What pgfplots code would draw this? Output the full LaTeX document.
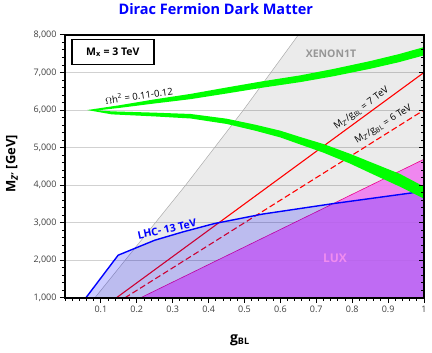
\documentclass[border=0pt]{standalone}
\usepackage{fontspec}
\setmainfont{Open Sans}
\usepackage{pgfplots}
\pgfplotsset{compat=1.18}

\definecolor{relic}{RGB}{0,255,0}
\definecolor{luxpink}{RGB}{240,140,240}
\definecolor{xegray}{RGB}{150,150,150}
\definecolor{luxfill}{RGB}{241,118,241}

\begin{document}
\begin{tikzpicture}
\begin{axis}[
	name=main,
	scale only axis,
	width=359pt, height=263pt,
	xmin=0, xmax=1, ymin=1000, ymax=8000,
	clip=false,
	xtick={0.1,0.2,0.3,0.4,0.5,0.6,0.7,0.8,0.9,1},
	xticklabels={0.1,0.2,0.3,0.4,0.5,0.6,0.7,0.8,0.9,1},
	minor xtick={0,0.02,...,1},
	ytick={1000,2000,3000,4000,5000,6000,7000,8000},
	minor y tick num=4,
	xtick pos=bottom, ytick pos=left,
	tick align=outside,
	major tick length=5pt, minor tick length=3pt,
	tick style={black, line width=0.9pt},
	ymajorgrids=true,
	grid style={black!18, line width=0.5pt},
	ticklabel style={font=\fontsize{9}{10}\selectfont, text=black!75},
	/pgf/number format/assume math mode=true,
	/pgf/number format/1000 sep={,},
	title={Dirac Fermion Dark Matter},
	title style={at={(0.42,1.076)}, anchor=center, font=\bfseries\fontsize{14.5}{16}\selectfont, text=blue},
	xlabel={g\textsubscript{\fontsize{9}{10}\selectfont BL}},
	xlabel style={at={(0.487,-0.16)}, anchor=center, font=\bfseries\fontsize{14}{15}\selectfont},
	ylabel={M\textsubscript{\textit{Z'}} [GeV]},
	ylabel style={at={(-0.148,0.51)}, anchor=center, rotate=0, font=\bfseries\fontsize{13}{14}\selectfont},
]

% XENON1T excluded region
\addplot[draw=none, fill=black, fill opacity=0.08]
coordinates{(0.083,1000) (0.336,4000) (0.497,6000) (0.650,8000) (1,8000) (1,1000)} -- cycle;
\addplot[xegray!80, line width=0.5pt]
coordinates{(0.083,1000) (0.336,4000) (0.497,6000) (0.650,8000)};

% M_Z'/g_BL lines
\addplot[red, line width=1.1pt]
coordinates{(0.142857,1000) (1,7000)};
\addplot[red, line width=1.1pt, dash pattern=on 6pt off 3pt]
coordinates{(0.166667,1000) (1,6000)};

% LUX
\addplot[draw=none, fill=luxfill, fill opacity=0.85]
coordinates{(0.21,1000) (1,4690) (1,1000)} -- cycle;
\addplot[magenta, line width=0.6pt]
coordinates{(0.21,1000) (1,4690)};

% LHC 13 TeV
\addplot[draw=none, fill=blue, fill opacity=0.2]
coordinates{
	(0.058,1000) (0.148,2136) (0.25,2535) (0.33,2760) (0.415,2976)
	(0.55,3230) (0.746,3508) (0.97,3800) (1,3830) (1,1000)
} -- cycle;
\addplot[blue, line width=1.4pt]
coordinates{
	(0.058,1000) (0.148,2136) (0.25,2535) (0.33,2760) (0.415,2976)
	(0.55,3230) (0.746,3508) (0.97,3800) (1,3830)
};

% relic density band
\addplot[draw=none, fill=relic]
coordinates{
	(1,7675) (0.93,7488) (0.85,7303) (0.75,7098) (0.656,6924) (0.55,6765)
	(0.45,6600) (0.35,6430) (0.25,6285) (0.15,6125) (0.062,6000)
	(0.13,5885) (0.25,5830) (0.35,5775) (0.45,5630) (0.53,5450) (0.6,5270)
	(0.656,5080) (0.72,4865) (0.794,4575) (0.86,4280) (0.933,3960) (1,3640)
	(1,3960) (0.933,4300) (0.86,4580) (0.794,4835) (0.72,5095) (0.656,5280)
	(0.6,5450) (0.53,5610) (0.45,5770) (0.35,5895) (0.25,5930) (0.13,5965)
	(0.09,5990)
	(0.15,6055) (0.25,6175) (0.35,6290) (0.45,6440) (0.55,6595) (0.656,6744)
	(0.75,6903) (0.85,7098) (0.93,7273) (1,7455)
} -- cycle;

% heavy frame
\draw[black, line width=2.6pt] (rel axis cs:0,0) rectangle (rel axis cs:1,1);

% labels
\node[fill=white, draw=black, line width=1.4pt, anchor=north west,
	minimum width=82pt, minimum height=25pt, font=\bfseries\fontsize{10.5}{12}\selectfont]
	at (rel axis cs:0.017,0.985) {M\textsubscript{x} = 3 TeV};
\node[font=\bfseries\fontsize{10.5}{12}\selectfont, text=xegray] at (axis cs:0.741,7502) {XENON1T};
\node[font=\fontsize{9.5}{11}\selectfont, rotate=8] at (axis cs:0.206,6395) {$\Omega$h\textsuperscript{2} = 0.11-0.12};
\node[font=\fontsize{9.5}{11}\selectfont, rotate=36.2] at (axis cs:0.826,6030) {M\textsubscript{\textit{Z'}}/g\textsubscript{BL} = 7 TeV};
\node[font=\fontsize{9.5}{11}\selectfont, rotate=32.1] at (axis cs:0.887,5610) {M\textsubscript{\textit{Z'}}/g\textsubscript{BL} = 6 TeV};
\node[font=\bfseries\fontsize{10.5}{12}\selectfont, text=blue, rotate=12.3] at (axis cs:0.284,2828) {LHC- 13 TeV};
\node[font=\bfseries\fontsize{12}{13}\selectfont, text=luxpink] at (axis cs:0.752,2047) {LUX};
\end{axis}

% inward ticks on the right-hand spine
\begin{axis}[
	scale only axis,
	width=359pt, height=263pt,
	xmin=0, xmax=1, ymin=1000, ymax=8000,
	xtick=\empty,
	ytick={1000,2000,3000,4000,5000,6000,7000,8000},
	minor y tick num=4,
	yticklabels={},
	ytick pos=right, tick align=inside,
	major tick length=5pt, minor tick length=3pt,
	tick style={black, line width=0.9pt},
	axis line style={draw=none},
]
\end{axis}

\path (main.south west) ++(-65pt,-55pt) rectangle ++(432pt,351pt);
\end{tikzpicture}
\end{document}
